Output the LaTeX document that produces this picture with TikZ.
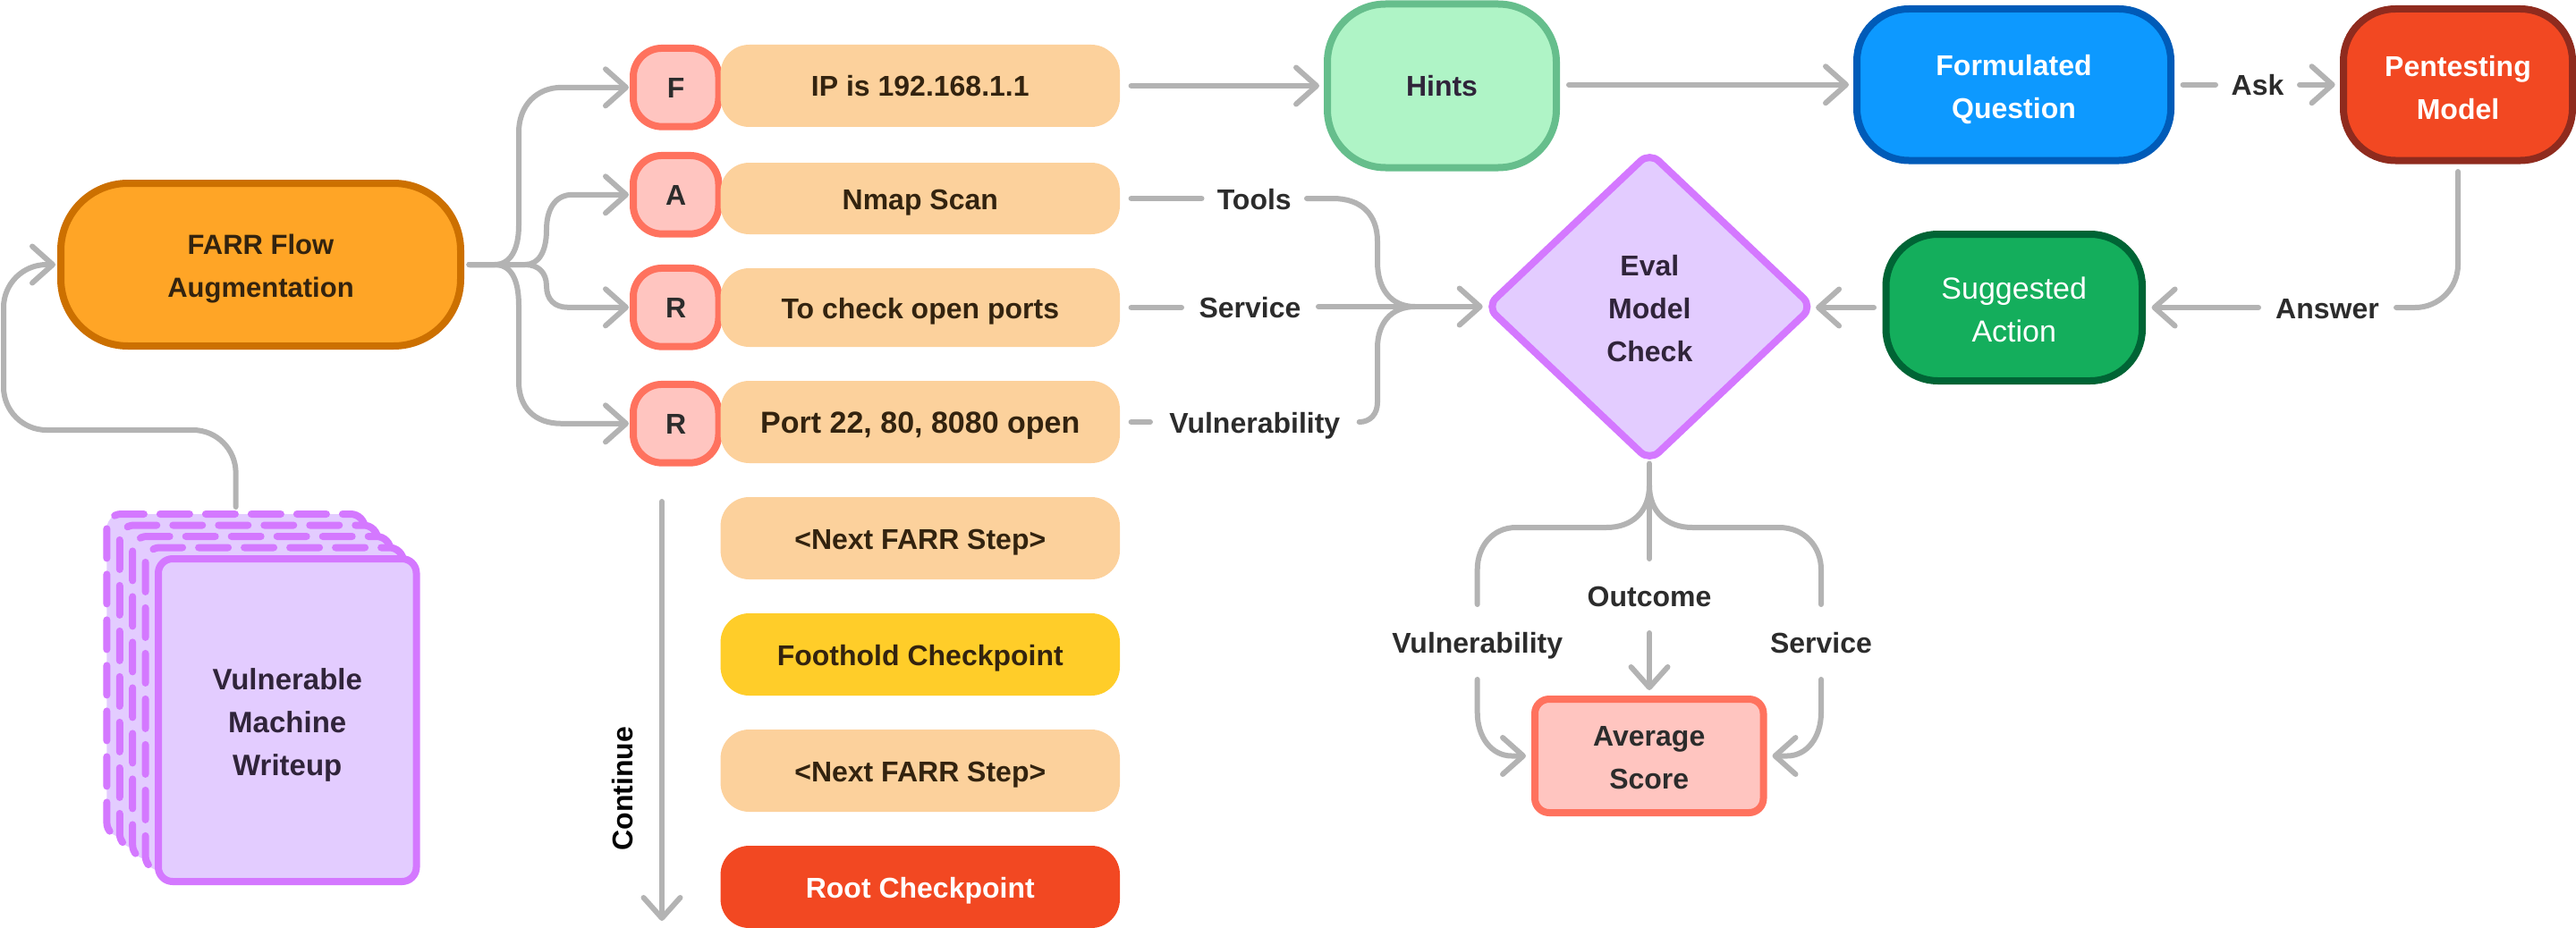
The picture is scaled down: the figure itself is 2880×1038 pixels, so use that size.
\documentclass[tikz,border=0pt]{standalone}
\usepackage{fontspec}
\setmainfont{Liberation Sans}
\usetikzlibrary{arrows.meta,shapes.geometric}
\definecolor{cline}{HTML}{B3B3B3}
\definecolor{lilac}{HTML}{E3CCFF}
\definecolor{lilacD}{HTML}{D478FF}
\definecolor{pinkF}{HTML}{FFC5C0}
\definecolor{pinkD}{HTML}{FF725E}
\definecolor{sand}{HTML}{FCD19C}
\definecolor{amber}{HTML}{FFA526}
\definecolor{amberD}{HTML}{CC7000}
\definecolor{mint}{HTML}{AFF4C6}
\definecolor{mintD}{HTML}{66BE8C}
\definecolor{sky}{HTML}{0D99FF}
\definecolor{skyD}{HTML}{005BB8}
\definecolor{red}{HTML}{F24822}
\definecolor{redD}{HTML}{8F2B1E}
\definecolor{leaf}{HTML}{14AE5C}
\definecolor{leafD}{HTML}{006435}
\definecolor{gold}{HTML}{FFCD29}
\definecolor{ink}{HTML}{2C2C2C}
\definecolor{inkB}{HTML}{33230F}
\definecolor{inkP}{HTML}{30243A}
\def\pxu{0.5pt}
\newcommand{\lift}[1]{\rule{0pt}{#1pt}}
\tikzset{
  base/.style={inner sep=0pt,outer sep=0pt,text=ink,align=center,
    font=\fontsize{16}{24}\selectfont\bfseries},
  rbox/.style n args={3}{base,rectangle,minimum width=#1*\pxu,minimum height=#2*\pxu,rounded corners=#3*\pxu},
  stroked/.style={line width=4pt},
  one/.style={text height=12pt,text depth=0pt},
  letterbox/.style={rbox={95.5}{87.7}{32},fill=pinkF,draw=pinkD,stroked,one},
  slot/.style={rbox={446.4}{#1}{32},one,text=inkB},
  sheet/.style={rbox={288.5}{361}{16},fill=lilac,draw=lilacD,stroked},
  dashsheet/.style={sheet,line cap=round,dash pattern=on 16.5pt off 9pt,dash phase=#1},
  lab/.style={base,one},
  conn/.style={draw=cline,line width=3pt,line cap=round,line join=round},
  arr/.style={conn,-{Straight Barb[length=11.5pt,width=20.5pt,round]}}
}
\begin{document}
\begin{tikzpicture}[x=0.5pt,y=-0.5pt]
\path[use as bounding box] (0,0) rectangle (2880,1038);
% stacked sheets
\node[dashsheet=12pt] (p1) at (263.65,755.5) {};
\node[dashsheet=12pt] (p2) at (278.05,768) {};
\node[dashsheet=12pt] (p3) at (292.45,780.5) {};
\node[dashsheet=12pt] (p4) at (306.85,793) {};
\node[sheet,text=inkP,font=\fontsize{16.5}{24}\selectfont\bfseries] (writeup) at (321.25,805.5) {\lift{17.4}Vulnerable\\Machine\\Writeup};
% main
\node[rbox={447}{182}{75},fill=amber,draw=amberD,stroked,text=inkB,font=\fontsize{15.5}{24}\selectfont\bfseries] (farr) at (291.5,296) {\lift{16.2}FARR Flow\\Augmentation};
\node[letterbox] (lf) at (755.75,97.8) {F};
\node[letterbox] (la) at (755.75,217.8) {A};
\node[letterbox] (lr) at (755.75,343.8) {R};
\node[letterbox] (ls) at (755.75,473.8) {R};
\node[slot=92,fill=sand] (ip) at (1028.8,96) {IP is 192.168.1.1};
\node[slot=80,fill=sand] (nmap) at (1028.8,222) {Nmap Scan};
\node[slot=88,fill=sand] (check) at (1028.8,344) {To check open ports};
\node[slot=92,fill=sand,font=\fontsize{17}{24}\selectfont\bfseries] (port) at (1028.8,472) {Port 22, 80, 8080 open};
\node[slot=92,fill=sand] (next1) at (1028.8,602) {<Next FARR Step>};
\node[slot=92,fill=gold] (foot) at (1028.8,732) {Foothold Checkpoint};
\node[slot=92,fill=sand] (next2) at (1028.8,862) {<Next FARR Step>};
\node[slot=92,fill=red,text=white] (root) at (1028.8,992) {Root Checkpoint};
\node[rbox={256}{183}{65},fill=mint,draw=mintD,stroked,one,text=inkP] (hints) at (1612,96) {Hints};
\node[rbox={351}{169.5}{58},fill=sky,draw=skyD,stroked,text=white] (form) at (2251.5,94.75) {\lift{17.2}Formulated\\Question};
\node[rbox={256}{169.5}{58},fill=red,draw=redD,stroked,text=white] (pent) at (2748,94.75) {\lift{14.7}Pentesting\\Model};
\node[rbox={286.5}{164}{58},fill=leaf,draw=leafD,stroked,text=white,font=\fontsize{17}{24}\selectfont] (sugg) at (2251.75,344) {\lift{15}Suggested\\Action};
\node[base,draw=lilacD,fill=lilac,stroked,text=inkP,diamond,aspect=1.055,minimum width=364*\pxu,minimum height=345*\pxu,rounded corners=14*\pxu] (dia) at (1844.3,343) {\lift{13.7}Eval\\Model\\Check};
\node[rbox={255.5}{127}{16},fill=pinkF,draw=pinkD,stroked] (avg) at (1843.75,845.5) {\lift{12.7}Average\\Score};
% labels
\node[lab,minimum width=111.5*\pxu] (tools) at (1402.25,222) {Tools};
\node[lab,minimum width=147*\pxu] (service) at (1397.5,343) {Service};
\node[lab,minimum width=227.7*\pxu] (vuln) at (1402.8,472) {Vulnerability};
\node[lab,minimum width=88*\pxu] (ask) at (2524,94.75) {Ask};
\node[lab,minimum width=148*\pxu] (answer) at (2602,344) {Answer};
\node[lab,minimum height=77*\pxu] (outcome) at (1844,666.5) {Outcome};
\node[lab,minimum height=78*\pxu] (vulnb) at (1651.7,718) {Vulnerability};
\node[lab,minimum height=78*\pxu] (serviceb) at (2036,718) {Service};
\node[lab,rotate=90,text=black,font=\fontsize{16}{24}\selectfont\bfseries] (cont) at (695,882) {Continue};
% junctions
\coordinate (fanA) at (553,296);
\coordinate (fanB) at (587,296);
\coordinate (merge) at (1582,343);
\coordinate (fork) at (1844,543);
\coordinate (contS) at (740,561);
\coordinate (contE) at (740,1030);
% writeup to FARR
\draw[arr,rounded corners=24pt,shorten <=4pt,shorten >=3pt] (p1.north) -- (263.65,481) -- (4,481) -- (4,296) -- (farr.west);
% fan
\draw[arr,shorten <=4.75pt,shorten >=2.5pt] (farr.east) -- (fanA) .. controls (570,296) and (580,280) .. (580,252) -- (580,148) .. controls (580,118) and (600,97.8) .. (628,97.8) -- (lf.west);
\draw[arr,shorten <=4.75pt,shorten >=2.5pt] (farr.east) -- (fanB) .. controls (602,296) and (611,282) .. (611,257) .. controls (611,235) and (620,217.8) .. (640,217.8) -- (la.west);
\draw[arr,shorten <=4.75pt,shorten >=2.5pt] (farr.east) -- (fanB) .. controls (602,296) and (611,305) .. (611,320) .. controls (611,335) and (620,343.8) .. (635,343.8) -- (lr.west);
\draw[arr,shorten <=4.75pt,shorten >=2.5pt] (farr.east) -- (fanA) .. controls (570,296) and (580,310) .. (580,342) -- (580,427) .. controls (580,455) and (597,473.8) .. (628,473.8) -- (ls.west);
% top row
\draw[arr,shorten <=6.3pt,shorten >=4.5pt] (ip.east) -- (ip.east -| hints.west);
\draw[arr,shorten <=7pt,shorten >=4.5pt] (hints.east |- form.west) -- (form.west);
\draw[conn,shorten <=6.75pt,shorten >=1.5pt] (form.east) -- (ask.west);
\draw[arr,shorten <=1.5pt,shorten >=4.7pt] (ask.east) -- (pent.west);
\draw[conn,rounded corners=24pt,shorten <=6.25pt,shorten >=1.5pt] (pent.south) -- (pent.south |- answer.east) -- (answer.east);
\draw[arr,shorten <=1.5pt,shorten >=5.3pt] (answer.west) -- (sugg.east);
\draw[arr,shorten <=6.75pt,shorten >=1.9pt] (sugg.west) -- (sugg.west -| dia.east);
% to diamond
\draw[conn,shorten <=6.3pt,shorten >=1.5pt] (nmap.east) -- (tools.west);
\draw[conn,shorten <=1.5pt] (tools.east) -- (1490,222) .. controls (1522,222) and (1540,240) .. (1540,270) -- (1540,293) .. controls (1540,323) and (1555,343) .. (merge);
\draw[conn,shorten <=6.3pt,shorten >=1.5pt] (check.east) -- (check.east -| service.west);
\draw[arr,shorten <=1.5pt,shorten >=2.3pt] (service.east) -- (dia.west);
\draw[conn,shorten <=6.3pt,shorten >=1.5pt] (port.east) -- (vuln.west);
\draw[conn,shorten <=1.5pt] (vuln.east) .. controls (1532,472) and (1540,463) .. (1540,450) -- (1540,389) .. controls (1540,362) and (1555,343) .. (merge);
% below diamond
\draw[conn,shorten <=1.5pt,shorten >=1.5pt] (dia.south -| outcome.north) -- (outcome.north);
\draw[arr,shorten <=1.5pt,shorten >=5pt] (outcome.south) -- (outcome.south |- avg.north);
\draw[conn,shorten >=1.5pt] (fork) .. controls (1844,572) and (1825,590) .. (1796,590) -- (1695,590) .. controls (1668,590) and (1651.7,612) .. (1651.7,637) -- (vulnb.north);
\draw[conn,shorten >=1.5pt] (fork) .. controls (1844,572) and (1863,590) .. (1892,590) -- (1989,590) .. controls (2018,590) and (2036,612) .. (2036,637) -- (serviceb.north);
\draw[arr,shorten <=1.5pt,shorten >=5pt] (vulnb.south) -- (1651.7,797) .. controls (1651.7,825) and (1668,845.5) .. (1690,845.5) -- (avg.west);
\draw[arr,shorten <=1.5pt,shorten >=5pt] (serviceb.south) -- (2036,797) .. controls (2036,825) and (2020,845.5) .. (1998,845.5) -- (avg.east);
% continue
\draw[arr] (contS) -- (contE);
\end{tikzpicture}
\end{document}
